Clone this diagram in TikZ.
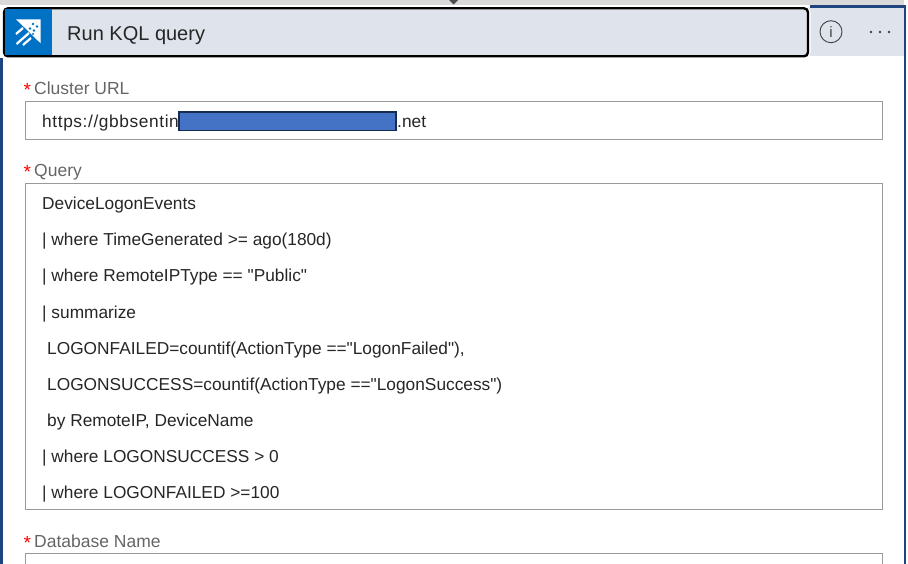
\documentclass[tikz,border=0pt]{standalone}
\usepackage{fontspec}
\setmainfont{Liberation Sans}[Ligatures=TeXOff]
\definecolor{headfill}{HTML}{DFE3EC}
\definecolor{cardblue}{HTML}{1F4480}
\definecolor{iconblue}{HTML}{0072C6}
\definecolor{maskblue}{HTML}{4472C4}
\definecolor{maskedge}{HTML}{172C51}
\definecolor{labelgray}{HTML}{666666}
\definecolor{boxgray}{HTML}{9A9A9A}
\definecolor{textdark}{HTML}{262626}
\tikzset{
  fieldbox/.style={draw=boxgray,line width=1pt,fill=white,rectangle,inner sep=0pt,outer sep=0pt,anchor=north west},
  fieldlabel/.style={text=labelgray,font=\fontsize{17.5}{20}\selectfont,anchor=base west,inner sep=0pt},
  reqmark/.style={text=red,font=\fontsize{19}{20}\selectfont,anchor=base west,inner sep=0pt},
  querytext/.style={text=textdark,font=\fontsize{17.3}{20}\selectfont,anchor=base west,inner sep=0pt},
}
\begin{document}
\begin{tikzpicture}[x=1pt,y=-1pt]
    \useasboundingbox (0,0) rectangle (908,564);
    \fill[white] (0,0) rectangle (908,564);
    % Top strip and card border
    \fill[black!15] (0,0) rectangle (904,5);
    \fill[black!70] (449,0) -- (458,0) -- (453.5,4.5) -- cycle;
    \fill[headfill] (3,7) rectangle (904,56);
    \fill[cardblue] (810,5) rectangle (906,8);
    \fill[cardblue] (0,58) rectangle (3,564);
    \fill[cardblue] (904,5) rectangle (906,564);
    % Header
    \node[draw=white,line width=5pt,rounded corners=4pt,rectangle,outer sep=0pt,
      minimum width=804pt,minimum height=48pt,anchor=north west,inner sep=0pt] (halo) at (4,8.3) {};
    \node[draw=black,line width=2.4pt,rounded corners=4pt,fill=headfill,rectangle,outer sep=0pt,
      minimum width=804pt,minimum height=48pt,anchor=north west,inner sep=0pt] (header) at (4,8.3) {};
    \node[fill=iconblue,rectangle,minimum width=47pt,minimum height=46pt,anchor=north west,inner sep=0pt,outer sep=0pt] (iconbox) at (5,9.3) {};
    \node[anchor=base west,inner sep=0pt,text=textdark,font=\fontsize{20}{24}\selectfont] (title) at (67,41) {Run KQL query};
    % Rocket icon
    \fill[white] (16,19.3) -- (40.7,19.3) -- (40.7,43.3) -- (33,36) -- (24,27) -- cycle;
    \fill[iconblue] (33,24) circle (1.4) (37,26.5) circle (1.4) (30,28.5) circle (1.4) (34,30.5) circle (1.4) (33,34) circle (1.2);
    \draw[white,line width=2.2pt] (16,34) -- (23,28) (16.5,44) -- (29,33) (23,45) -- (31,38);
    % Info and menu
    \node[draw=black!75,line width=0.9pt,circle,minimum size=22pt,inner sep=0pt,font=\fontsize{15}{16}\selectfont,text=black!75] (info) at (831,31.7) {i};
    \fill[black!75] (871,32) circle (1.4) (880,32) circle (1.4) (889,32) circle (1.4);
    % Cluster URL
    \node[reqmark] (urlstar) at (23.5,97) {*};
    \node[fieldlabel] (urllabel) at (34,95) {Cluster URL};
    \node[fieldbox,minimum width=857pt,minimum height=38pt] (urlbox) at (25.5,101.5) {};
    \node[querytext] (urltext) at (42,128) {\addfontfeature{LetterSpace=3.5}https://gbbsentin};
    \node[draw=maskedge,line width=1.5pt,fill=maskblue,rectangle,inner sep=0pt,outer sep=0pt,
      minimum width=217pt,minimum height=18.5pt,anchor=north west] (mask) at (179,111.8) {};
    \node[querytext] (urlend) at (397,128) {.net};
    % Query
    \node[reqmark] (querystar) at (23.5,179) {*};
    \node[fieldlabel] (querylabel) at (34,177) {Query};
    \node[fieldbox,minimum width=857pt,minimum height=326pt] (querybox) at (25.5,183.5) {};
    \node[querytext] (line1) at (42,210) {DeviceLogonEvents};
    \node[querytext] (line2) at (42,246) {| where TimeGenerated >= ago(180d)};
    \node[querytext] (line3) at (42,282) {| where RemoteIPType == "Public"};
    \node[querytext] (line4) at (42,318) {| summarize};
    \node[querytext] (line5) at (47,354) {LOGONFAILED=countif(ActionType =="LogonFailed"),};
    \node[querytext] (line6) at (47,390) {LOGONSUCCESS=countif(ActionType =="LogonSuccess")};
    \node[querytext] (line7) at (47,426) {by RemoteIP, DeviceName};
    \node[querytext] (line8) at (42,462) {| where LOGONSUCCESS > 0};
    \node[querytext] (line9) at (42,498) {| where LOGONFAILED >=100};
    % Database Name
    \node[reqmark] (dbstar) at (23.5,549) {*};
    \node[fieldlabel] (dblabel) at (34,547) {Database Name};
    \node[fieldbox,minimum width=857pt,minimum height=30pt] (dbbox) at (25.5,553.5) {};
    \useasboundingbox (0,0) rectangle (908,564);
\end{tikzpicture}
\end{document}
